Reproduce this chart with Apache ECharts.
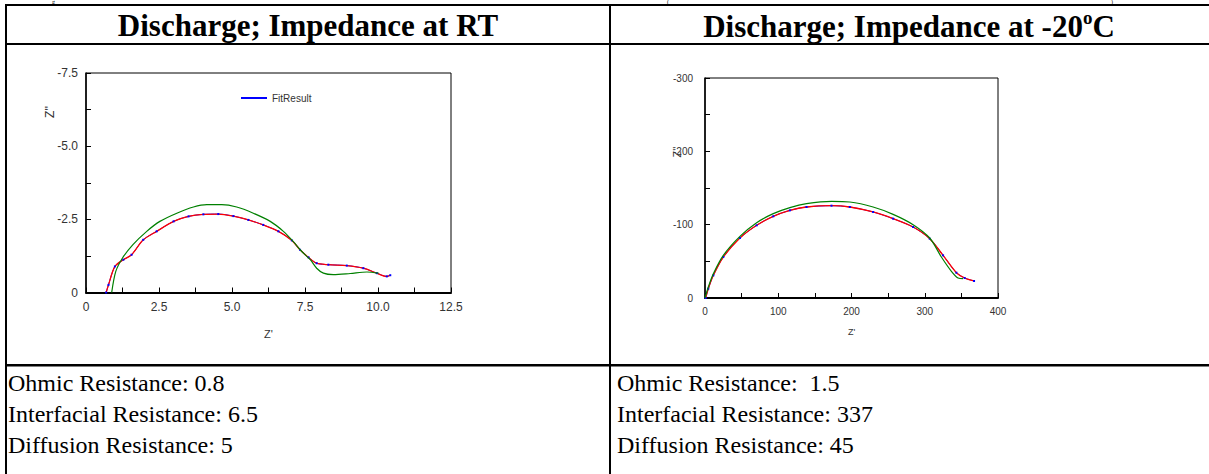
<!DOCTYPE html>
<html>
<head>
<meta charset="utf-8">
<script src="https://cdn.jsdelivr.net/npm/echarts@6/dist/echarts.min.js"></script>
<style>
html,body{margin:0;padding:0;background:#fff;}
#c{width:1209px;height:474px;}
</style>
</head>
<body>
<div id="c"></div>
<script>
// ---- data ----
var rtDataX = [0.69,0.77,0.99,1.28,1.56,1.96,2.42,3.00,3.51,4.02,4.53,5.05,5.56,6.07,6.59,7.05,7.33,7.62,7.90,8.30,8.93,9.50,9.96,10.30,10.42];
var rtDataY = [0,-0.26,-0.89,-1.12,-1.29,-1.80,-2.09,-2.43,-2.60,-2.67,-2.68,-2.61,-2.48,-2.31,-2.09,-1.78,-1.46,-1.20,-1.00,-0.95,-0.92,-0.83,-0.66,-0.55,-0.59];
var rtModelX = [0.88,1.02,1.25,1.60,2.08,2.53,3.11,3.68,4.14,4.65,5.16,5.73,6.31,6.76,7.10,7.39,7.68,7.90,8.13,8.47,9.05,9.62,10.02];
var rtModelY = [0,-0.72,-1.18,-1.63,-2.09,-2.43,-2.71,-2.92,-3.00,-3.00,-2.92,-2.71,-2.43,-2.09,-1.74,-1.40,-1.12,-0.83,-0.66,-0.61,-0.65,-0.70,-0.66];

var ltDataX = [0.9,4.5,11.4,25,47.7,70.5,93.2,115.9,138.6,172.7,197.7,229.5,256.8,284.1,306.8,325,343.2,354.5,367.3];
var ltDataY = [0,-12.7,-30.9,-55.9,-81.8,-99.1,-111.4,-119.5,-124.1,-125.9,-124.1,-117.3,-108.2,-96.8,-80.9,-58.2,-34.5,-27.3,-23.2];
var ltModelX = [0,4.5,11.4,25,47.7,70.5,93.2,115.9,138.6,172.7,197.7,229.5,256.8,284.1,306.8,322.7,336.4,345.5,352.3];
var ltModelY = [0,-15,-33.2,-58.2,-84.1,-102.7,-115,-123.2,-128.6,-131.8,-130.9,-124.1,-114.1,-100,-81.8,-55.9,-36.4,-27.3,-26.4];

var headerLeft = 'Discharge; Impedance at RT';
var headerRightMain = 'Discharge; Impedance at -20';
var headerRightSup = 'o';
var headerRightEnd = 'C';
var notesLeft = ['Ohmic Resistance: 0.8', 'Interfacial Resistance: 6.5', 'Diffusion Resistance: 5'];
var notesRight = ['Ohmic Resistance:  1.5', 'Interfacial Resistance: 337', 'Diffusion Resistance: 45'];
var legendName = 'FitResult';
var xName = "Z'";
var yName = "Z''";

function pairs(xs, ys){ return xs.map(function(x,i){ return [x, ys[i]]; }); }

var chart = echarts.init(document.getElementById('c'), null, {renderer:'svg'});

var SANS = '"Liberation Sans", Arial, sans-serif';
var SERIF = '"Liberation Serif", "Times New Roman", serif';

function xAx(gi, max, interval, fs, fmt, gap){
  return {
    type:'value', gridIndex:gi, min:0, max:max, interval:interval,
    axisLine:{show:true, onZero:false, lineStyle:{color:'#000', width:2}},
    axisTick:{show:true, inside:true, length:5, lineStyle:{color:'#000', width:1}},
    minorTick:{show:true, splitNumber:2, length:5, lineStyle:{color:'#000', width:1}},
    splitLine:{show:false},
    axisLabel:{fontSize:fs, color:'#333', fontFamily:SANS, margin:8, formatter:fmt},
    name:xName, nameLocation:'middle', nameGap:gap,
    nameTextStyle:{fontSize:fs-1, color:'#333', fontFamily:SANS}
  };
}
function yAx(gi, min, interval, fs, fmt, margin){
  return {
    type:'value', gridIndex:gi, min:min, max:0, interval:interval, inverse:true,
    axisLine:{show:true, onZero:false, lineStyle:{color:'#000', width:1.5}},
    axisTick:{show:true, inside:true, length:5, lineStyle:{color:'#000', width:1}},
    minorTick:{show:true, splitNumber:2, length:5, lineStyle:{color:'#000', width:1}},
    splitLine:{show:false},
    axisLabel:{fontSize:fs, color:'#333', fontFamily:SANS, margin:margin, formatter:fmt}
  };
}
var fmt1 = function(v){ return v === 0 ? '0' : v.toFixed(1); };
var fmt0 = function(v){ return String(Math.round(v)); };

function lineSeries(name, gi, data, color, width, z, dots){
  return {
    name:name, type:'line', xAxisIndex:gi, yAxisIndex:gi, data:data,
    smooth:0.3, z:z,
    symbol: dots ? 'rect' : 'none', symbolSize: dots ? 2 : 0, showSymbol: !!dots,
    itemStyle:{color: dots ? '#0000ff' : color},
    lineStyle:{color:color, width:width},
    emphasis:{disabled:true}, animation:false
  };
}

var graphics = [];
function rect(x,y,w,h){ graphics.push({type:'rect', shape:{x:x,y:y,width:w,height:h}, style:{fill:'#000'}, silent:true}); }
rect(5,4,1204,2);
rect(5,4,2,470);
rect(5,43,1204,2);
rect(609,4,2,470);
rect(5,364,1204,2.5);

// fragments of the preceding (cropped) line, kept tiny inside the top strip
graphics.push({type:'text', style:{text:'g', x:52, y:-1, font:'6px '+SERIF, fill:'#000', textVerticalAlign:'top'}});
graphics.push({type:'text', style:{text:'(', x:667, y:-1, font:'6px '+SERIF, fill:'#000', textVerticalAlign:'top'}});
graphics.push({type:'text', style:{text:')', x:1111, y:-1, font:'6px '+SERIF, fill:'#000', textVerticalAlign:'top'}});

graphics.push({type:'text', style:{text:headerLeft, x:308, y:25, font:'bold 31px '+SERIF, fill:'#000', textAlign:'center', textVerticalAlign:'middle'}});
graphics.push({type:'text', style:{
  text:'{b|'+headerRightMain+'}{s|'+headerRightSup+'}{b|'+headerRightEnd+'}',
  x:909, y:25, textAlign:'center', textVerticalAlign:'middle',
  rich:{
    b:{font:'bold 31px '+SERIF, fill:'#000', lineHeight:34, verticalAlign:'bottom'},
    s:{font:'bold 19px '+SERIF, fill:'#000', lineHeight:34, verticalAlign:'top'}
  }
}});

notesLeft.forEach(function(t,i){
  graphics.push({type:'text', style:{text:t, x:8, y:383+i*31, font:'24px '+SERIF, fill:'#000', textVerticalAlign:'middle'}});
});
notesRight.forEach(function(t,i){
  graphics.push({type:'text', style:{text:t, x:617, y:383+i*31, font:'24px '+SERIF, fill:'#000', textVerticalAlign:'middle'}});
});
// rotated y-axis names
graphics.push({type:'text', x:50, y:112, rotation:Math.PI/2, style:{text:yName, font:'12px '+SANS, fill:'#333', textAlign:'center', textVerticalAlign:'middle'}});
graphics.push({type:'text', x:677, y:152, rotation:Math.PI/2, style:{text:yName, font:'11px '+SANS, fill:'#333', textAlign:'center', textVerticalAlign:'middle'}});

var option = {
  animation:false,
  backgroundColor:'#fff',
  grid:[
    {left:86, top:73, width:365, height:219.5, show:true, borderColor:'#000', borderWidth:1, containLabel:false},
    {left:705, top:78, width:293, height:220, show:true, borderColor:'#000', borderWidth:1, containLabel:false}
  ],
  legend:{
    data:[legendName], left:236, top:88, itemWidth:26, itemHeight:2, itemGap:4,
    icon:'rect',
    textStyle:{fontSize:10, color:'#333', fontFamily:SANS}, selectedMode:false
  },
  xAxis:[ xAx(0, 12.5, 2.5, 12, fmt1, 36), xAx(1, 400, 100, 10, fmt0, 29) ],
  yAxis:[ yAx(0, -7.5, 2.5, 12, fmt1, 8), yAx(1, -300, 100, 10, fmt0, 12) ],
  series:[
    lineSeries(legendName, 0, pairs(rtDataX, rtDataY), '#0000ff', 1, 1, false),
    lineSeries('Data RT', 0, pairs(rtDataX, rtDataY), '#ff0000', 1.3, 2, true),
    lineSeries('Model RT', 0, pairs(rtModelX, rtModelY), '#008000', 1.2, 3, false),
    lineSeries('Fit -20', 1, pairs(ltDataX, ltDataY), '#0000ff', 1, 1, false),
    lineSeries('Data -20', 1, pairs(ltDataX, ltDataY), '#ff0000', 1.3, 2, true),
    lineSeries('Model -20', 1, pairs(ltModelX, ltModelY), '#008000', 1.2, 3, false)
  ],
  graphic: graphics
};
chart.setOption(option);
</script>
</body>
</html>
